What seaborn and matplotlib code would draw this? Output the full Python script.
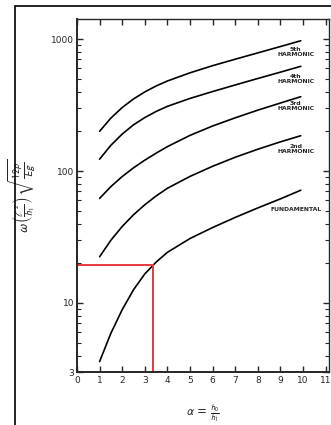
import numpy as np
import pandas as pd
import matplotlib.pyplot as plt
import matplotlib.ticker as mticker
from matplotlib.patches import Rectangle
import seaborn as sns

# values
alpha = [1, 1.5, 2, 2.5, 3, 3.5, 4, 5, 6, 7, 8, 9, 9.9]
fundamental = [3.6, 5.9, 8.9, 12.6, 16.6, 20.4, 24.2, 30.8, 37.3, 44.5, 52.5, 61.5, 71.5]
harmonic2 = [22.4, 29.9, 38.0, 46.6, 55.5, 64.7, 74.0, 91.0, 108.6, 127.1, 146.2, 166.3, 185]
harmonic3 = [62, 76.2, 90.8, 105.7, 120.8, 136.5, 153, 186.2, 219.3, 252.9, 289.1, 327.3, 365.6]
harmonic4 = [123, 156.7, 190.5, 223.9, 254.1, 282.5, 309, 354.8, 399.9, 448.7, 502.3, 561.0, 621]
harmonic5 = [200, 251.8, 302.7, 351.6, 397.2, 440.6, 480.8, 554.6, 628.1, 703.1, 785.2, 877.0, 970]
series_names = ["FUNDAMENTAL", "2nd\nHARMONIC", "3rd\nHARMONIC", "4th\nHARMONIC", "5th\nHARMONIC"]
label_omega = [51, 147, 310, 502, 796]
marked_alpha = 3.35
marked_omega = 19.4

x_ticks = list(range(0, 12))
y_ticks = [3, 10, 100, 1000]

rows = []
for name, vals in zip(series_names, [fundamental, harmonic2, harmonic3, harmonic4, harmonic5]):
    for a, v in zip(alpha, vals):
        rows.append({"alpha": a, "omega": v, "mode": name})
df = pd.DataFrame(rows)

sns.set_style("ticks")
plt.rcParams["font.family"] = ["DejaVu Sans"]
plt.rcParams["mathtext.fontset"] = "stixsans"

fig = plt.figure(figsize=(3.31, 4.25), dpi=100)
ax = fig.add_axes([77 / 331, 53 / 425, 252 / 331, 353 / 425])

sns.lineplot(data=df, x="alpha", y="omega", units="mode", estimator=None,
             color="black", linewidth=1.2, ax=ax, legend=False)

ax.set_yscale("log")
ax.set_xlim(0, 11.15)
ax.set_ylim(3, 1418)

# red reading lines
ax.plot([0, marked_alpha], [marked_omega, marked_omega], color="#e8383d", linewidth=1.4)
ax.plot([marked_alpha, marked_alpha], [3, marked_omega], color="#e8383d", linewidth=1.4)

# curve labels
for name, y in zip(series_names, label_omega):
    ax.text(9.68, y, name, ha="center", va="center", fontsize=4.4,
            fontweight="bold", linespacing=1.0)

ax.set_xticks(x_ticks)
ax.set_xticklabels([str(t) for t in x_ticks])
ax.set_yticks(y_ticks)
ax.yaxis.set_major_formatter(mticker.FixedFormatter([str(t) for t in y_ticks]))
ax.yaxis.set_minor_locator(mticker.LogLocator(base=10, subs=np.arange(2, 10)))
ax.yaxis.set_minor_formatter(mticker.NullFormatter())

ax.tick_params(axis="both", which="major", direction="in", length=4, width=1,
               labelsize=6.5, top=True, right=True, pad=2)
ax.tick_params(axis="y", which="minor", direction="in", length=3, width=0.8, right=True)
ax.tick_params(axis="x", which="major", pad=3)

for side in ["left", "bottom"]:
    ax.spines[side].set_linewidth(1.4)
ax.spines["top"].set_linewidth(1.0)
ax.spines["right"].set_linewidth(1.0)

ax.set_xlabel(r"$\alpha$ = $\frac{h_0}{h_1}$", fontsize=8.5, labelpad=12)
ax.set_ylabel(r"$\omega\,\left(\frac{\ell^2}{h_1}\right)\,\sqrt{\frac{12\rho}{Eg}}$",
              fontsize=10, labelpad=10)

# scanned page frame
fig.patches.append(Rectangle((15 / 331, -0.1), 1.2, (425 - 6) / 425 + 0.1,
                             transform=fig.transFigure, fill=False,
                             edgecolor="black", linewidth=1.2))

fig.savefig("out.png", dpi=100)
